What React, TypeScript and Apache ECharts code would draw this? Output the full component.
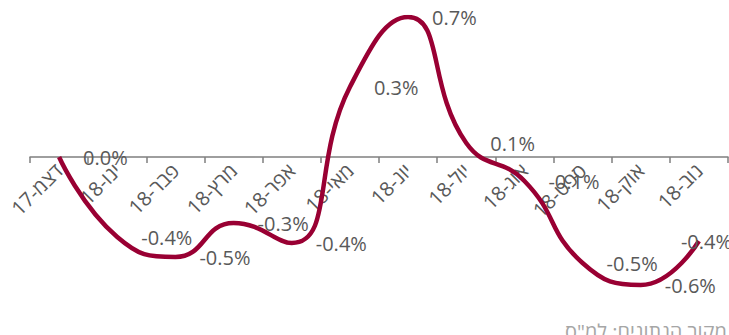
import React, { useEffect, useRef } from "react";
import * as echarts from "echarts";

const categories = [
  "דצמ-17",
  "ינו-18",
  "פבר-18",
  "מרץ-18",
  "אפר-18",
  "מאי-18",
  "יונ-18",
  "יול-18",
  "אוג-18",
  "ספט-18",
  "אוק-18",
  "נוב-18",
];
const values = [0.0, -0.4, -0.5, -0.33, -0.43, 0.35, 0.7, 0.07, -0.12, -0.53, -0.64, -0.42];
const sourceNote = 'מקור הנתונים: למ"ס';

export default function App() {
  const ref = useRef<HTMLDivElement>(null);
  useEffect(() => {
    document.body.style.margin = "0";
    if (!ref.current) return;
    const chart = echarts.init(ref.current, undefined, { renderer: "svg" });
    const font = "'Open Sans', 'DejaVu Sans', sans-serif";
    const last = values.length - 1;
    chart.setOption({
      animation: false,
      grid: { left: 30, right: 1, top: 17, bottom: 38, containLabel: false },
      xAxis: {
        type: "category",
        data: categories,
        boundaryGap: true,
        position: "bottom",
        offset: -140,
        axisLine: { onZero: false, lineStyle: { color: "#7f7f7f", width: 1.5 } },
        axisTick: { show: true, length: 6, alignWithLabel: false, lineStyle: { color: "#7f7f7f", width: 1.5 } },
        axisLabel: {
          rotate: 45,
          margin: 10,
          fontSize: 20,
          color: "#595959",
          fontFamily: font,
          interval: 0,
          hideOverlap: false,
          formatter: (v: string) => "\u200F" + v,
        },
        splitLine: { show: false },
      },
      yAxis: {
        type: "value",
        min: -0.7,
        max: 0.7,
        show: false,
        splitLine: { show: false },
      },
      series: [
        {
          type: "line",
          data: values.map((v, i) =>
            i === last
              ? { value: v, label: { position: [-17, 1], align: "left", verticalAlign: "middle" } }
              : v
          ),
          smooth: 0.5,
          showSymbol: true,
          symbol: "circle",
          symbolSize: 2,
          lineStyle: { color: "#990033", width: 4.5 },
          itemStyle: { color: "rgba(0,0,0,0)", borderWidth: 0 },
          label: {
            show: true,
            position: "right",
            distance: 23,
            fontSize: 20,
            color: "#595959",
            fontFamily: font,
            formatter: (p: any) => `${Number(p.value).toFixed(1)}%`,
          },
          labelLayout: { hideOverlap: false },
          z: 3,
        },
      ],
      graphic: [
        {
          type: "text",
          left: 565,
          top: 321,
          style: {
            text: sourceNote,
            fontSize: 20,
            fill: "#a6a6a6",
            fontFamily: font,
          },
        },
      ],
    });
    return () => chart.dispose();
  }, []);
  return <div ref={ref} style={{ width: 729, height: 335 }} />;
}
